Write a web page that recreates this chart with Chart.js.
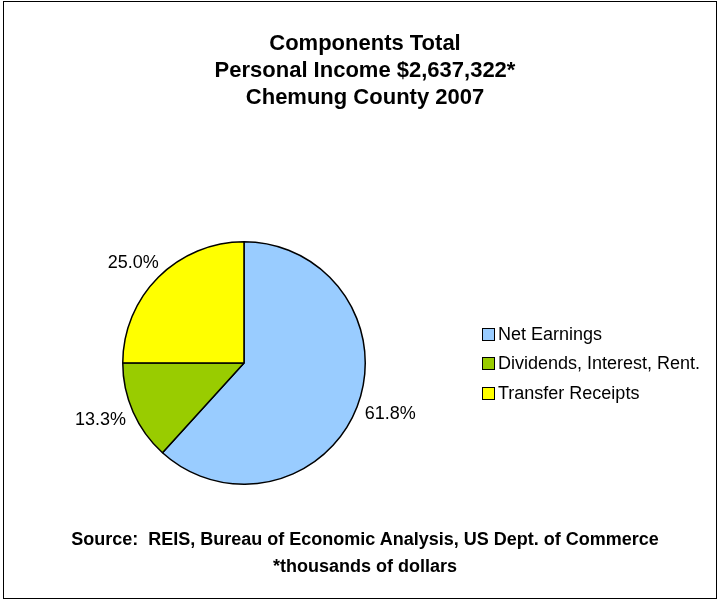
<!DOCTYPE html>
<html>
<head>
<meta charset="utf-8">
<title>Components Total Personal Income - Chemung County 2007</title>
<script src="https://cdn.jsdelivr.net/npm/chart.js@4.4.0/dist/chart.umd.min.js"></script>
<style>
    html, body { margin: 0; padding: 0; background: #fff; }
    body { width: 720px; height: 605px; position: relative; overflow: hidden; font-family: "Liberation Sans", Arial, sans-serif; color: #000; }
    #frame { position: absolute; left: 3px; top: 1px; width: 714px; height: 598px; border: 1px solid #000; box-sizing: border-box; }
    #chart { position: absolute; left: 0; top: 0; }
    .title, .footer { position: absolute; left: 0; width: 730px; text-align: center; font-weight: bold; line-height: 27px; white-space: pre; }
    .title { top: 29px; font-size: 22px; }
    .footer { top: 526px; font-size: 18px; }
    #legend { position: absolute; left: 482px; top: 320px; font-size: 18px; }
    .item { position: absolute; left: 0; white-space: nowrap; line-height: 29px; height: 29px; }
    .box { position: absolute; left: 0; top: 8px; width: 13px; height: 13px; border: 1px solid #000; box-sizing: border-box; }
    .item span.txt { position: absolute; left: 16px; top: 0; }
</style>
</head>
<body>
<div id="frame"></div>
<canvas id="chart" width="720" height="605"></canvas>
<div class="title" id="title"></div>
<div id="legend"></div>
<div class="footer" id="footer"></div>

<script>
// data
const categories = ['Net Earnings', 'Dividends, Interest, Rent.', 'Transfer Receipts'];
const shares = [61.8, 13.3, 25.0]; // percent of total personal income
const titleLines = ['Components Total', 'Personal Income $2,637,322*', 'Chemung County 2007'];
const footerLines = ['Source:  REIS, Bureau of Economic Analysis, US Dept. of Commerce', '*thousands of dollars'];

const sliceColors = ['#99CCFF', '#99CC00', '#FFFF00'];

document.getElementById('title').textContent = titleLines.join('\n');
document.getElementById('footer').textContent = footerLines.join('\n');

// legend on the right
const legend = document.getElementById('legend');
categories.forEach((name, i) => {
    const row = document.createElement('div');
    row.className = 'item';
    row.style.top = (i * 29.3) + 'px';
    const box = document.createElement('span');
    box.className = 'box';
    box.style.background = sliceColors[i];
    const txt = document.createElement('span');
    txt.className = 'txt';
    txt.textContent = name;
    row.appendChild(box);
    row.appendChild(txt);
    legend.appendChild(row);
});

// percent labels sitting just outside each slice
const outsideLabels = {
    id: 'outsideLabels',
    afterDatasetsDraw(chart) {
        const ctx = chart.ctx;
        const arcs = chart.getDatasetMeta(0).data;
        ctx.save();
        ctx.font = '18px "Liberation Sans", Arial, sans-serif';
        ctx.fillStyle = '#000';
        ctx.textAlign = 'center';
        ctx.textBaseline = 'middle';
        arcs.forEach((arc, i) => {
            const p = arc.getProps(['x', 'y', 'startAngle', 'endAngle', 'outerRadius'], true);
            const mid = (p.startAngle + p.endAngle) / 2;
            const text = shares[i].toFixed(1) + '%';
            const w = ctx.measureText(text).width;
            const gap = p.outerRadius + 10;
            const x = p.x + Math.cos(mid) * (gap + w / 2);
            const y = p.y + Math.sin(mid) * (gap + 10);
            ctx.fillText(text, x, y);
        });
        ctx.restore();
    }
};

const ctx = document.getElementById('chart').getContext('2d');
new Chart(ctx, {
    type: 'pie',
    data: {
        labels: categories,
        datasets: [{
            data: shares,
            backgroundColor: sliceColors,
            borderColor: '#000',
            borderWidth: 1.5
        }]
    },
    options: {
        responsive: false,
        animation: false,
        devicePixelRatio: 1,
        layout: { padding: { left: 122, right: 354, top: 241, bottom: 120 } },
        plugins: {
            legend: { display: false },
            tooltip: { enabled: false },
            title: { display: false }
        }
    },
    plugins: [outsideLabels]
});
</script>
</body>
</html>
